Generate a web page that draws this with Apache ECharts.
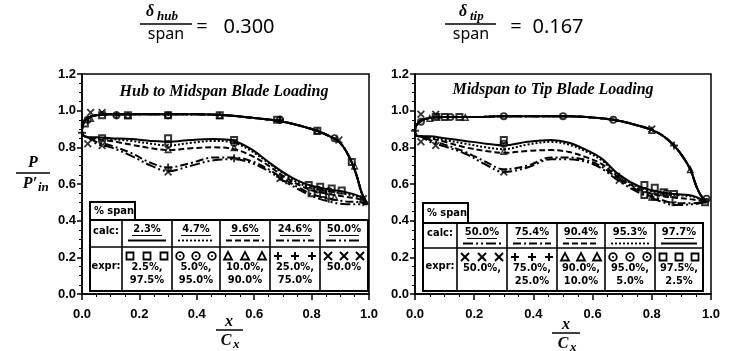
<!DOCTYPE html>
<html>
<head>
<meta charset="utf-8">
<script src="https://cdn.jsdelivr.net/npm/echarts/dist/echarts.min.js"></script>
<style>
  html, body { margin: 0; background: #fff; }
  #chart { width: 736px; height: 351px; }
</style>
</head>
<body>
<div id="chart"></div>
<script>
// ---- hub to midspan (left panel), x/Cx vs P/P'in ----
// pressure side, trailing edge -> leading edge (all spans overlap)
const hubUpper = [[0.995,0.49],[0.975,0.55],[0.96,0.63],[0.945,0.70],[0.92,0.78],[0.895,0.83],[0.85,0.87],[0.80,0.90],[0.70,0.94],[0.60,0.96],[0.50,0.975],[0.40,0.98],[0.30,0.98],[0.20,0.98],[0.10,0.98],[0.05,0.975],[0.02,0.96],[0.005,0.93],[0,0.89],[0.005,0.865],[0.02,0.855]]
// suction side per calc span
const hub23 = [[0.05,0.855],[0.10,0.85],[0.17,0.845],[0.24,0.835],[0.30,0.83],[0.38,0.84],[0.46,0.845],[0.53,0.835],[0.59,0.79],[0.65,0.72],[0.70,0.665],[0.75,0.62],[0.80,0.59],[0.86,0.57],[0.92,0.555],[0.97,0.53],[0.995,0.49]]
const hub47 = [[0.05,0.85],[0.10,0.845],[0.17,0.835],[0.24,0.82],[0.30,0.81],[0.38,0.825],[0.46,0.835],[0.53,0.825],[0.59,0.78],[0.65,0.715],[0.70,0.66],[0.75,0.61],[0.80,0.58],[0.86,0.56],[0.92,0.545],[0.97,0.525],[0.995,0.49]]
const hub96 = [[0.05,0.845],[0.10,0.835],[0.17,0.815],[0.24,0.795],[0.30,0.785],[0.38,0.795],[0.46,0.80],[0.53,0.79],[0.59,0.755],[0.65,0.70],[0.70,0.645],[0.75,0.60],[0.80,0.565],[0.86,0.545],[0.92,0.53],[0.97,0.515],[0.995,0.49]]
const hub246 = [[0.05,0.83],[0.10,0.81],[0.17,0.77],[0.24,0.715],[0.30,0.69],[0.38,0.715],[0.46,0.745],[0.53,0.745],[0.59,0.725],[0.65,0.68],[0.70,0.63],[0.75,0.585],[0.80,0.545],[0.86,0.52],[0.92,0.505],[0.97,0.50],[0.995,0.49]]
const hub500 = [[0.05,0.82],[0.10,0.80],[0.17,0.755],[0.24,0.70],[0.30,0.67],[0.38,0.70],[0.46,0.73],[0.53,0.735],[0.59,0.715],[0.65,0.67],[0.70,0.62],[0.75,0.575],[0.80,0.535],[0.86,0.505],[0.92,0.49],[0.97,0.49],[0.995,0.49]]
// experiment points
const hubSq = [[0.01,0.93],[0.07,0.975],[0.16,0.975],[0.30,0.975],[0.48,0.975],[0.68,0.95],[0.82,0.89],[0.94,0.72],[0.07,0.85],[0.30,0.85],[0.53,0.84],[0.79,0.595],[0.83,0.585],[0.87,0.575],[0.905,0.565],[0.80,0.55],[0.84,0.545]]
const hubCi = [[0.02,0.95],[0.12,0.975],[0.30,0.975],[0.69,0.95],[0.88,0.85],[0.30,0.815],[0.53,0.825],[0.82,0.57],[0.86,0.56]]
const hubTr = [[0.03,0.96],[0.16,0.975],[0.48,0.975],[0.82,0.89],[0.95,0.70],[0.30,0.79],[0.53,0.80],[0.72,0.62],[0.88,0.53]]
const hubPl = [[0.0,0.88],[0.12,0.975],[0.69,0.95],[0.30,0.69],[0.53,0.74],[0.69,0.64],[0.86,0.52],[0.98,0.50]]
const hubX = [[0.03,0.99],[0.07,0.99],[0.895,0.84],[0.02,0.82],[0.07,0.81],[0.30,0.665],[0.69,0.63],[0.98,0.52]]

// ---- midspan to tip (right panel) ----
const tipUpper = [[0.985,0.50],[0.965,0.54],[0.95,0.59],[0.93,0.68],[0.90,0.76],[0.875,0.81],[0.84,0.86],[0.80,0.895],[0.74,0.925],[0.67,0.95],[0.58,0.965],[0.50,0.97],[0.40,0.97],[0.30,0.97],[0.20,0.965],[0.10,0.965],[0.05,0.96],[0.02,0.945],[0.005,0.92],[0,0.89],[0.005,0.865],[0.02,0.86]]
const tip500 = [[0.05,0.83],[0.10,0.805],[0.17,0.765],[0.24,0.705],[0.30,0.665],[0.38,0.69],[0.46,0.735],[0.52,0.735],[0.58,0.72],[0.63,0.685],[0.69,0.615],[0.76,0.55],[0.83,0.505],[0.88,0.485],[0.94,0.49],[0.985,0.50]]
const tip754 = [[0.05,0.84],[0.10,0.815],[0.17,0.775],[0.24,0.72],[0.30,0.68],[0.38,0.70],[0.46,0.745],[0.52,0.745],[0.58,0.73],[0.63,0.695],[0.69,0.625],[0.76,0.56],[0.83,0.515],[0.88,0.495],[0.94,0.495],[0.985,0.50]]
const tip904 = [[0.05,0.85],[0.10,0.83],[0.17,0.80],[0.24,0.78],[0.30,0.77],[0.38,0.78],[0.46,0.785],[0.52,0.775],[0.58,0.745],[0.63,0.71],[0.69,0.635],[0.76,0.57],[0.83,0.535],[0.88,0.525],[0.94,0.515],[0.985,0.50]]
const tip953 = [[0.05,0.855],[0.10,0.84],[0.17,0.82],[0.24,0.80],[0.30,0.79],[0.38,0.815],[0.46,0.83],[0.52,0.815],[0.58,0.775],[0.63,0.73],[0.69,0.645],[0.76,0.58],[0.83,0.55],[0.88,0.54],[0.94,0.53],[0.985,0.50]]
const tip977 = [[0.05,0.86],[0.10,0.85],[0.17,0.835],[0.24,0.82],[0.30,0.81],[0.38,0.83],[0.46,0.84],[0.52,0.825],[0.58,0.785],[0.63,0.74],[0.69,0.65],[0.76,0.585],[0.83,0.555],[0.88,0.545],[0.94,0.535],[0.985,0.50]]
const tipSq = [[0.07,0.965],[0.10,0.965],[0.15,0.965],[0.30,0.84],[0.775,0.595],[0.81,0.58],[0.84,0.555],[0.875,0.545],[0.775,0.54],[0.81,0.53],[0.98,0.50]]
const tipCi = [[0.02,0.94],[0.12,0.965],[0.30,0.97],[0.50,0.97],[0.67,0.95],[0.985,0.52],[0.30,0.82],[0.85,0.55]]
const tipTr = [[0.05,0.96],[0.17,0.965],[0.80,0.895],[0.93,0.68],[0.30,0.78],[0.80,0.53]]
const tipPl = [[0.0,0.89],[0.08,0.965],[0.875,0.81],[0.69,0.64],[0.87,0.50]]
const tipX = [[0.02,0.98],[0.07,0.98],[0.80,0.90],[0.02,0.83],[0.07,0.81],[0.30,0.665],[0.69,0.62]]

// legend table texts
const hubCalc = ['2.3%', '4.7%', '9.6%', '24.6%', '50.0%']
const hubExpr1 = ['2.5%,', '5.0%,', '10.0%,', '25.0%,', '50.0%']
const hubExpr2 = ['97.5%', '95.0%', '90.0%', '75.0%', '']
const tipCalc = ['50.0%', '75.4%', '90.4%', '95.3%', '97.7%']
const tipExpr1 = ['50.0%,', '75.0%,', '90.0%,', '95.0%,', '97.5%,']
const tipExpr2 = ['', '25.0%', '10.0%', '5.0%', '2.5%']

// symbols (hollow square, dotted circle, hollow triangle, plus, cross)
const SQ = 'M0,0H10V10H0Z M2.5,2.5V7.5H7.5V2.5Z'
const CI = 'M5,0A5,5 0 1,1 5,10A5,5 0 1,1 5,0Z M5,2.3A2.7,2.7 0 1,0 5,7.7A2.7,2.7 0 1,0 5,2.3Z M5,3.8A1.2,1.2 0 1,1 5,6.2A1.2,1.2 0 1,1 5,3.8Z'
const TR = 'M5,0L10,9.5H0Z M5,3.8L2.8,7.6H7.2Z'
const PL = 'M3.8,0H6.2V3.8H10V6.2H6.2V10H3.8V6.2H0V3.8H3.8Z'
const XX = 'M0,1.6L1.6,0L5,3.4L8.4,0L10,1.6L6.6,5L10,8.4L8.4,10L5,6.6L1.6,10L0,8.4L3.4,5Z'

const DASH = {
  solid: 'solid',
  dot: [2, 2],
  dash: [6, 3],
  dashdot: [8, 3, 2, 3],
  dashdotdot: [10, 3, 2, 3, 2, 3]
}

const tblFont = 'bold 11px "DejaVu Sans Condensed", "Liberation Sans Narrow", "Liberation Sans", sans-serif'

function lineSeries (idx, upper, lower, dash) {
  return {
    type: 'line',
    xAxisIndex: idx,
    yAxisIndex: idx,
    data: upper.concat(lower),
    smooth: 0.35,
    symbol: 'none',
    lineStyle: { color: '#000', width: 2, type: dash },
    z: 2
  }
}
function markSeries (idx, data, path) {
  return {
    type: 'scatter',
    xAxisIndex: idx,
    yAxisIndex: idx,
    data: data,
    symbol: 'path://' + path,
    symbolSize: 8,
    itemStyle: { color: '#000' },
    z: 3
  }
}

function txt (x, y, s, font, align) {
  return {
    type: 'text', z: 20,
    style: { text: s, x: x, y: y, font: font, fill: '#000', textAlign: align || 'center', textVerticalAlign: 'middle' }
  }
}
function ln (x1, y1, x2, y2, w, dash) {
  return {
    type: 'line', z: 20,
    shape: { x1: x1, y1: y1, x2: x2, y2: y2 },
    style: { stroke: '#000', lineWidth: w, lineDash: dash || null }
  }
}
// legend marker drawn from plain shapes
function sym (kind, x, y) {
  const st = { fill: 'none', stroke: '#000', lineWidth: 1.8 }
  if (kind === SQ) return [{ type: 'rect', z: 20, shape: { x: x - 3.5, y: y - 3.5, width: 7, height: 7 }, style: st }]
  if (kind === CI) return [{ type: 'circle', z: 20, shape: { cx: x, cy: y, r: 3.8 }, style: st },
    { type: 'circle', z: 20, shape: { cx: x, cy: y, r: 1 }, style: { fill: '#000' } }]
  if (kind === TR) return [{ type: 'polygon', z: 20, shape: { points: [[x, y - 4], [x + 4, y + 3.5], [x - 4, y + 3.5]] }, style: st }]
  if (kind === PL) return [ln(x - 4, y, x + 4, y, 2), ln(x, y - 4, x, y + 4, 2)]
  return [ln(x - 4, y - 4, x + 4, y + 4, 2), ln(x - 4, y + 4, x + 4, y - 4, 2)]
}

// table inside a panel
function table (cols, rows, headW, headTop, calc, e1, e2, dashes, syms) {
  let els = []
  els.push({ type: 'rect', z: 19, shape: { x: cols[0], y: headTop, width: headW, height: rows[0] - headTop }, style: { fill: '#fff', stroke: '#000', lineWidth: 2 } })
  els.push(txt(cols[0] + 4, (headTop + rows[0]) / 2, '% span', tblFont, 'left'))
  els.push({ type: 'rect', z: 19, shape: { x: cols[0], y: rows[0], width: cols[6] - cols[0], height: rows[2] - rows[0] }, style: { fill: '#fff', stroke: '#000', lineWidth: 2 } })
  els.push(ln(cols[0], rows[1], cols[6], rows[1], 1.6))
  for (let i = 1; i < 6; i++) els.push(ln(cols[i], rows[0], cols[i], rows[2], 1.6))
  els.push(txt((cols[0] + cols[1]) / 2, (rows[0] + rows[1]) / 2 - 2, 'calc:', tblFont))
  els.push(txt((cols[0] + cols[1]) / 2, (rows[1] + rows[2]) / 2 - 3, 'expr:', tblFont))
  for (let i = 0; i < 5; i++) {
    let a = cols[i + 1], b = cols[i + 2], cx = (a + b) / 2
    els.push(txt(cx, rows[0] + 9, calc[i], tblFont))
    els.push(ln(cx - 15, rows[0] + 15.5, cx + 15, rows[0] + 15.5, 1))
    let d = dashes[i] === 'solid' ? null : dashes[i]
    els.push(ln(a + 6, rows[0] + 20.5, b - 6, rows[0] + 20.5, 1.8, d))
    ;[a + 8, cx, b - 8].forEach(x => { els = els.concat(sym(syms[i], x, rows[1] + 9)) })
    els.push(txt(cx, rows[1] + 20, e1[i], tblFont))
    if (e2[i]) els.push(txt(cx, rows[1] + 33, e2[i], tblFont))
  }
  return els
}

const chart = echarts.init(document.getElementById('chart'), null, { renderer: 'canvas' })

function xAx (gi) {
  return {
    type: 'value', gridIndex: gi, min: 0, max: 1, interval: 0.2,
    axisLine: { show: true, lineStyle: { color: '#000', width: 1.5 } },
    axisTick: { show: true, length: 6, lineStyle: { color: '#000', width: 1.5 } },
    minorTick: { show: true, splitNumber: 4, length: 3, lineStyle: { color: '#000', width: 1 } },
    splitLine: { show: false },
    axisLabel: { color: '#000', fontWeight: 'bold', fontSize: 13, fontFamily: 'Liberation Sans', margin: 14, formatter: v => v.toFixed(1) }
  }
}
function yAx (gi) {
  return {
    type: 'value', gridIndex: gi, min: 0, max: 1.2, interval: 0.2,
    axisLine: { show: true, lineStyle: { color: '#000', width: 1.5 } },
    axisTick: { show: true, length: 5, lineStyle: { color: '#000', width: 1.5 } },
    minorTick: { show: true, splitNumber: 4, length: 3, lineStyle: { color: '#000', width: 1 } },
    splitLine: { show: false },
    axisLabel: { color: '#000', fontWeight: 'bold', fontSize: 13, fontFamily: 'Liberation Sans', margin: 6, formatter: v => v.toFixed(1) }
  }
}

const hubDash = [DASH.solid, DASH.dot, DASH.dash, DASH.dashdot, DASH.dashdotdot]
const tipDash = [DASH.dashdotdot, DASH.dashdot, DASH.dash, DASH.dot, DASH.solid]

const spanF = '16px "Noto Sans", "Open Sans", sans-serif'
const numF = '20px "Noto Sans", "Open Sans", sans-serif'
const fracI = 'italic bold 16px "Liberation Serif", serif'
const subI = 'italic bold 13px "Liberation Serif", serif'
const titleF = 'italic bold 16px "Liberation Serif", "Times New Roman", serif'

let graphics = [
  // top formulas
  txt(150, 12, 'δ', fracI), txt(157, 17, 'hub', subI, 'left'),
  ln(140, 24, 192, 24, 1.5), txt(166, 34, 'span', spanF),
  txt(202, 27, '=', numF), txt(249, 27, '0.300', numF),
  txt(463, 12, 'δ', fracI), txt(470, 17, 'tip', subI, 'left'),
  ln(445, 24, 496, 24, 1.5), txt(471, 34, 'span', spanF),
  txt(516, 27, '=', numF), txt(558, 27, '0.167', numF),
  // panel titles
  txt(224, 92, 'Hub to Midspan Blade Loading', titleF),
  txt(553, 90, 'Midspan to Tip Blade Loading', titleF),
  // y label P / P'in
  txt(33, 163, 'P', fracI), ln(16, 173, 50, 173, 1.5),
  txt(30, 184, 'P′', fracI), txt(38, 188, 'in', subI, 'left'),
  // x labels x / Cx
  txt(229, 322, 'x', fracI), ln(216, 330, 243, 330, 1.5),
  txt(226, 341, 'C', fracI), txt(233, 345, 'x', subI, 'left'),
  txt(566, 325, 'x', fracI), ln(552, 333, 580, 333, 1.5),
  txt(563, 344, 'C', fracI), txt(570, 348, 'x', subI, 'left')
]
graphics = graphics.concat(table([90, 122, 172, 220, 270, 320, 368], [220, 247, 291], 45, 202, hubCalc, hubExpr1, hubExpr2, hubDash, [SQ, CI, TR, PL, XX]))
graphics = graphics.concat(table([423, 457, 507, 557, 605, 655, 703], [223, 248, 291], 45, 203, tipCalc, tipExpr1, tipExpr2, tipDash, [XX, PL, TR, CI, SQ]))

const option = {
  animation: false,
  backgroundColor: '#fff',
  grid: [
    { left: 82, top: 74, width: 287, height: 220, show: true, borderColor: '#000', borderWidth: 1.5 },
    { left: 415, top: 74, width: 296, height: 220, show: true, borderColor: '#000', borderWidth: 1.5 }
  ],
  xAxis: [xAx(0), xAx(1)],
  yAxis: [yAx(0), yAx(1)],
  series: [
    lineSeries(0, hubUpper, hub23, hubDash[0]),
    lineSeries(0, hubUpper, hub47, hubDash[1]),
    lineSeries(0, hubUpper, hub96, hubDash[2]),
    lineSeries(0, hubUpper, hub246, hubDash[3]),
    lineSeries(0, hubUpper, hub500, hubDash[4]),
    markSeries(0, hubSq, SQ), markSeries(0, hubCi, CI), markSeries(0, hubTr, TR),
    markSeries(0, hubPl, PL), markSeries(0, hubX, XX),
    lineSeries(1, tipUpper, tip500, tipDash[0]),
    lineSeries(1, tipUpper, tip754, tipDash[1]),
    lineSeries(1, tipUpper, tip904, tipDash[2]),
    lineSeries(1, tipUpper, tip953, tipDash[3]),
    lineSeries(1, tipUpper, tip977, tipDash[4]),
    markSeries(1, tipSq, SQ), markSeries(1, tipCi, CI), markSeries(1, tipTr, TR),
    markSeries(1, tipPl, PL), markSeries(1, tipX, XX)
  ],
  graphic: { elements: graphics }
}
chart.setOption(option)
</script>
</body>
</html>
